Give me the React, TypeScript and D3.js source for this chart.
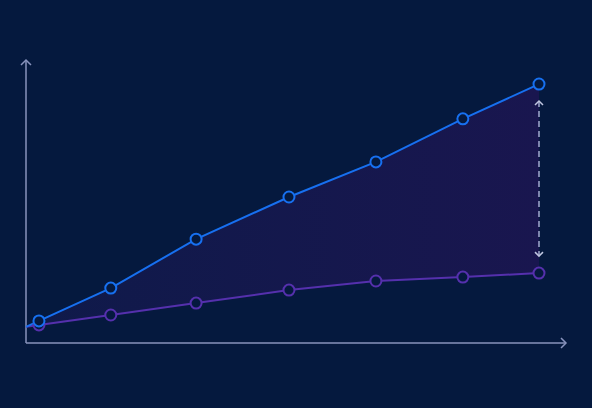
import React from "react";
import * as d3 from "d3";

const xValues = [0, 2.4, 15.7, 31.5, 48.7, 64.8, 80.9, 95];
const seriesA = [5.7, 7.8, 19.4, 36.7, 51.6, 64, 79.2, 91.5];
const seriesB = [5.7, 6.4, 9.9, 14.1, 18.7, 21.9, 23.3, 24.7];
const markerFrom = 1;

const W = 592;
const H = 408;
const BG = "#05193e";
const AXIS = "#8893bd";
const BLUE = "#1770f0";
const PURPLE = "#5530ad";

export default function App() {
  const x = d3.scaleLinear().domain([0, 100]).range([26, 566]);
  const y = d3.scaleLinear().domain([0, 100]).range([343, 60]);
  const rows = xValues.map((v, i) => ({ x: v, a: seriesA[i], b: seriesB[i] }));
  const lineA = d3.line<any>().x((d) => x(d.x)).y((d) => y(d.a))(rows) || "";
  const lineB = d3.line<any>().x((d) => x(d.x)).y((d) => y(d.b))(rows) || "";
  const area = d3
    .area<any>()
    .x((d) => x(d.x))
    .y0((d) => y(d.b))
    .y1((d) => y(d.a))(rows) || "";
  const last = rows[rows.length - 1];
  const ax = x(last.x);
  const top = y(last.a) + 17;
  const bot = y(last.b) - 17;
  const x0 = x(0), y0 = y(0);
  const xEnd = x(100), yEnd = y(100);

  return (
    <svg width={W} height={H} style={{ position: "absolute", left: 0, top: 0, display: "block" }}>
      <defs>
        <linearGradient id="areaGrad" x1="0" x2="1" y1="0" y2="0">
          <stop offset="0" stopColor="#0f1a4a" />
          <stop offset="1" stopColor="#19164f" />
        </linearGradient>
      </defs>
      <rect width={W} height={H} fill={BG} />
      <path d={area} fill="url(#areaGrad)" />
      <line x1={x0} y1={y0} x2={x0} y2={yEnd} stroke={AXIS} strokeWidth={1.5} />
      <line x1={x0} y1={y0} x2={xEnd} y2={y0} stroke={AXIS} strokeWidth={1.5} />
      <path d={`M${x0 - 5},${yEnd + 5}L${x0},${yEnd}L${x0 + 5},${yEnd + 5}`} fill="none" stroke={AXIS} strokeWidth={1.5} />
      <path d={`M${xEnd - 5},${y0 - 5}L${xEnd},${y0}L${xEnd - 5},${y0 + 5}`} fill="none" stroke={AXIS} strokeWidth={1.5} />
      <line x1={ax} y1={top} x2={ax} y2={bot} stroke="#a3abcf" strokeWidth={1.5} strokeDasharray="6,4" />
      <path d={`M${ax - 4},${top + 4}L${ax},${top}L${ax + 4},${top + 4}`} fill="none" stroke="#c0c6e0" strokeWidth={1.5} />
      <path d={`M${ax - 4},${bot - 4}L${ax},${bot}L${ax + 4},${bot - 4}`} fill="none" stroke="#c0c6e0" strokeWidth={1.5} />
      <path d={lineB} fill="none" stroke={PURPLE} strokeWidth={2} />
      <path d={lineA} fill="none" stroke={BLUE} strokeWidth={2} />
      {rows.slice(markerFrom).map((d, i) => (
        <circle key={"b" + i} cx={x(d.x)} cy={y(d.b)} r={5.5} fill={BG} stroke={PURPLE} strokeWidth={2} />
      ))}
      {rows.slice(markerFrom).map((d, i) => (
        <circle key={"a" + i} cx={x(d.x)} cy={y(d.a)} r={5.5} fill={BG} stroke={BLUE} strokeWidth={2} />
      ))}
    </svg>
  );
}
